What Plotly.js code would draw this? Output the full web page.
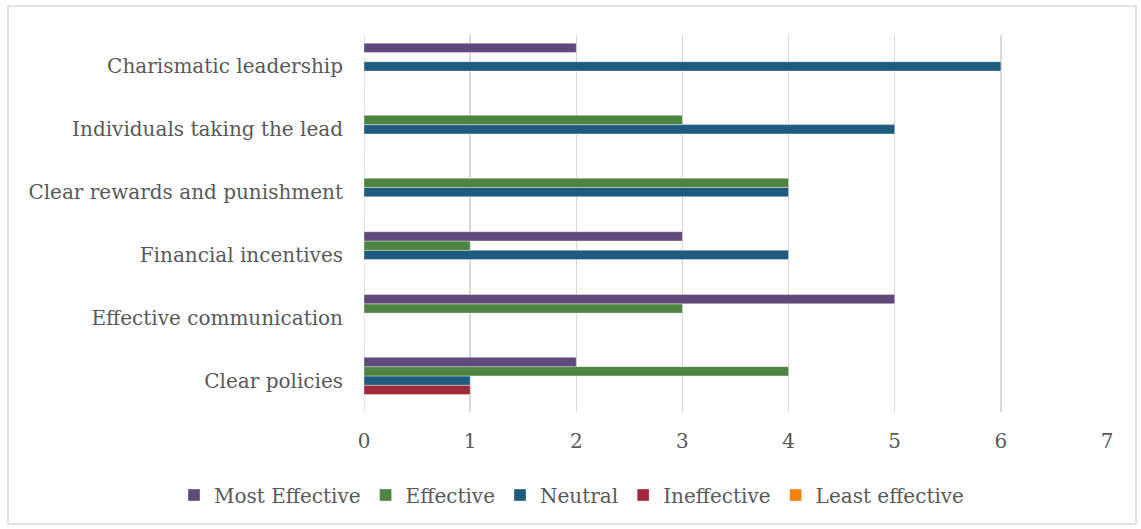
<!DOCTYPE html>
<html>
<head>
<meta charset="utf-8">
<script src="https://cdn.plot.ly/plotly-3.0.1.min.js"></script>
<style>
  html, body { margin: 0; padding: 0; background: #fff; }
  #chart { width: 1141px; height: 529px; }
</style>
</head>
<body>
<div id="chart"></div>
<script>
// Categories, bottom to top on the axis
const categories = [
  "Clear policies",
  "Effective communication",
  "Financial incentives",
  "Clear rewards and punishment",
  "Individuals taking the lead",
  "Charismatic leadership"
];

// Counts per rating, aligned with categories
const mostEffective  = [2, 5, 3, 0, 0, 2];
const effective      = [4, 3, 1, 4, 3, 0];
const neutral        = [1, 0, 4, 4, 5, 6];
const ineffective    = [1, 0, 0, 0, 0, 0];
const leastEffective = [0, 0, 0, 0, 0, 0];

const xTicks = [0, 1, 2, 3, 4, 5, 6, 7];

// Series listed bottom-to-top inside each group
const series = [
  { name: "Least effective", values: leastEffective, color: "#f28009" },
  { name: "Ineffective",     values: ineffective,    color: "#a3283a" },
  { name: "Neutral",         values: neutral,        color: "#1f5b7e" },
  { name: "Effective",       values: effective,      color: "#4e8442" },
  { name: "Most Effective",  values: mostEffective,  color: "#604a7b" }
];

const FONT = "DejaVu Serif, Liberation Serif, serif";
const W = 1141, H = 529;
const M = { l: 364, r: 34, t: 35, b: 117 };
const pw = W - M.l - M.r, ph = H - M.t - M.b;

const traces = series.map(s => ({
  type: "bar",
  orientation: "h",
  name: s.name,
  y: categories,
  x: s.values,
  marker: { color: s.color, line: { color: "rgba(255,255,255,0.6)", width: 0.6 } },
  hoverinfo: "x+y+name"
}));

const layout = {
  width: W, height: H,
  margin: M,
  paper_bgcolor: "#fff",
  plot_bgcolor: "#fff",
  barmode: "group",
  bargap: 0.26,
  bargroupgap: 0,
  font: { family: FONT, size: 20, color: "#595959" },
  xaxis: {
    range: [0, 7],
    tickvals: xTicks,
    ticktext: xTicks.map(String),
    showgrid: true,
    gridcolor: "#d9d9d9",
    gridwidth: 1.5,
    zeroline: false,
    showline: false,
    ticks: "",
    ticklabelstandoff: 15,
    tickfont: { family: FONT, size: 20, color: "#595959" },
    fixedrange: true
  },
  yaxis: {
    type: "category",
    categoryorder: "array",
    categoryarray: categories,
    showgrid: false,
    zeroline: false,
    showline: false,
    ticks: "",
    ticklabelstandoff: 20,
    tickfont: { family: FONT, size: 20, color: "#595959" },
    fixedrange: true
  },
  // Legend starts left of the plot area so it can span the full row
  legend: {
    orientation: "h",
    traceorder: "reversed",
    x: (174 - M.l) / pw,
    xanchor: "left",
    y: -(495 - M.t - ph) / ph,
    yanchor: "middle",
    font: { family: FONT, size: 20, color: "#595959" },
    itemwidth: 30,
    bgcolor: "rgba(0,0,0,0)"
  },
  shapes: [{
    type: "rect",
    xref: "paper", yref: "paper",
    x0: (8 - M.l) / pw, x1: (1136 - M.l) / pw,
    y0: -(524 - M.t - ph) / ph, y1: 1 + (M.t - 6) / ph,
    line: { color: "#d9d9d9", width: 1.5 },
    fillcolor: "rgba(0,0,0,0)",
    layer: "below"
  }, {
    type: "line",
    xref: "x", yref: "paper",
    x0: 0, x1: 0, y0: 0, y1: 1,
    line: { color: "#d9d9d9", width: 1.5 },
    layer: "below"
  }]
};

Plotly.newPlot("chart", traces, layout, { displayModeBar: false, staticPlot: true });
</script>
</body>
</html>
